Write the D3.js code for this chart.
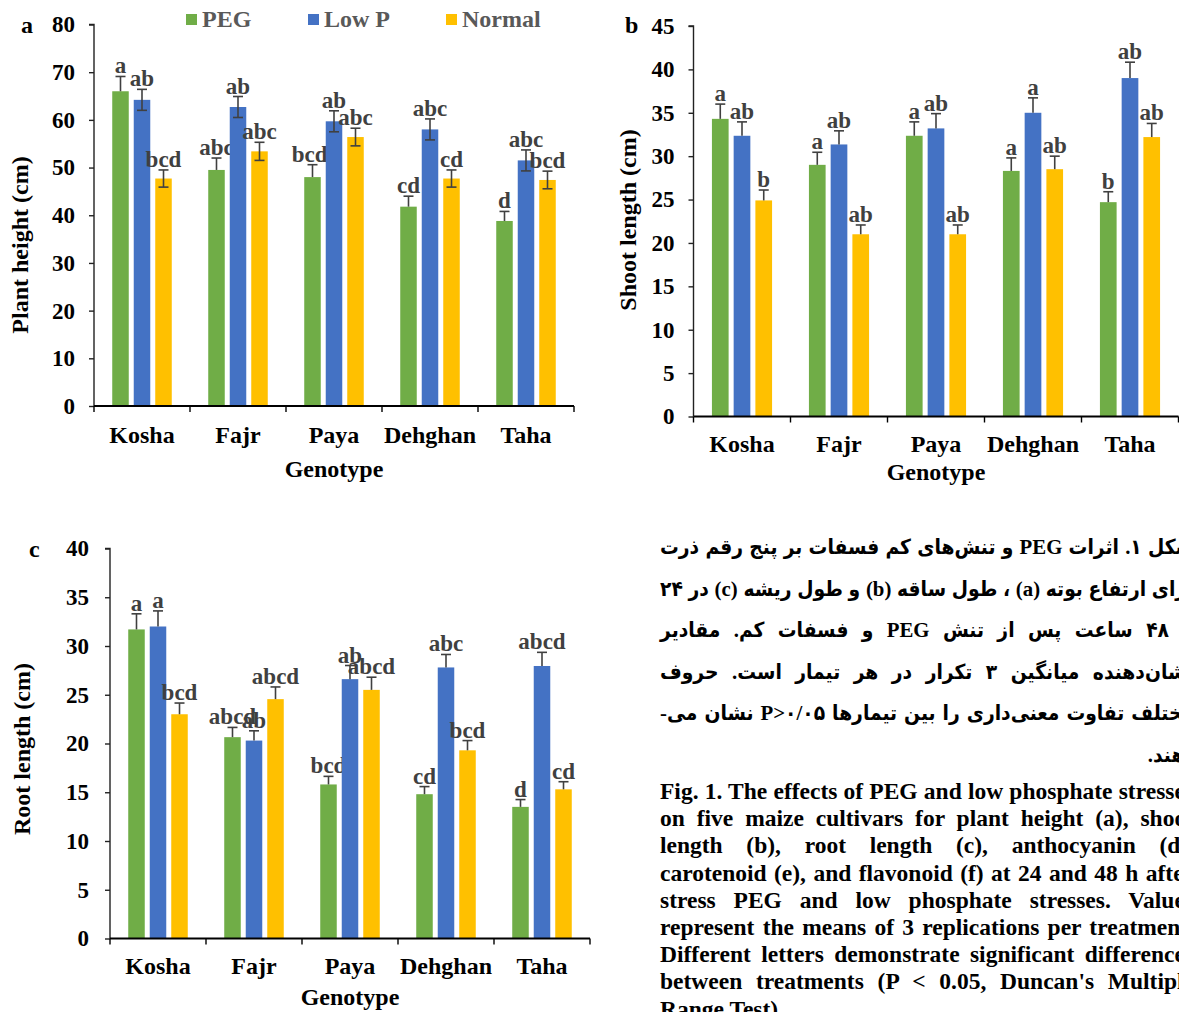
<!DOCTYPE html>
<html>
<head>
<meta charset="utf-8">
<script src="https://cdn.jsdelivr.net/npm/d3@7"></script>
<style>
  html, body { margin: 0; padding: 0; background: #fff; overflow: hidden; }
  #wrap { position: relative; width: 1179px; height: 1012px; overflow: hidden; }
  svg { position: absolute; left: 0; top: 0; }
  .cap { position: absolute; font-family: "Liberation Serif", "Times New Roman", serif; font-weight: bold; color: #000; }
  .cap div { white-space: nowrap; text-align: justify; text-align-last: justify; }
  .fa { direction: rtl; font-family: "Liberation Serif", "DejaVu Sans Condensed", "DejaVu Sans", serif; }
</style>
</head>
<body>
<div id="wrap"></div>
<script>
// ---- data ----
const genotypes = ["Kosha", "Fajr", "Paya", "Dehghan", "Taha"];
const treatments = ["PEG", "Low P", "Normal"];
const treatmentColors = ["#70AD47", "#4472C4", "#FFC000"];

// plant height (cm)
const heightPEG = [66.0, 49.5, 48.0, 41.8, 38.8];
const heightLowP = [64.2, 62.7, 59.7, 58.0, 51.5];
const heightNormal = [47.7, 53.4, 56.4, 47.7, 47.4];
const heightPEGErr = [3.1, 2.5, 2.6, 2.2, 2.0];
const heightLowPErr = [2.2, 2.2, 2.2, 2.2, 2.2];
const heightNormalErr = [1.8, 1.9, 1.85, 1.8, 1.85];
const heightPEGLetters = ["a", "abc", "bcd,", "cd", "d"];
const heightLowPLetters = ["ab", "ab", "ab", "abc", "abc"];
const heightNormalLetters = ["bcd", "abc", "abc", "cd", "bcd"];
const heightTicks = [0, 10, 20, 30, 40, 50, 60, 70, 80];

// shoot length (cm)
const shootPEG = [34.3, 29.0, 32.35, 28.3, 24.7];
const shootLowP = [32.35, 31.35, 33.2, 35.0, 39.0];
const shootNormal = [24.9, 21.0, 21.0, 28.5, 32.2];
const shootPEGErr = [1.7, 1.45, 1.6, 1.5, 1.2];
const shootLowPErr = [1.6, 1.57, 1.7, 1.72, 1.83];
const shootNormalErr = [1.2, 1.07, 1.07, 1.5, 1.57];
const shootPEGLetters = ["a", "a", "a", "a", "b"];
const shootLowPLetters = ["ab", "ab", "ab", "a", "ab"];
const shootNormalLetters = ["b", "ab", "ab", "ab", "ab"];
const shootTicks = [0, 5, 10, 15, 20, 25, 30, 35, 40, 45];

// root length (cm)
const rootPEG = [31.7, 20.65, 15.8, 14.8, 13.5];
const rootLowP = [32.0, 20.3, 26.6, 27.8, 27.95];
const rootNormal = [23.0, 24.55, 25.5, 19.3, 15.3];
const rootPEGErr = [1.6, 1.0, 0.83, 0.78, 0.75];
const rootLowPErr = [1.6, 1.0, 1.4, 1.33, 1.4];
const rootNormalErr = [1.15, 1.25, 1.3, 1.0, 0.78];
const rootPEGLetters = ["a", "abcd", "bcd", "cd", "d"];
const rootLowPLetters = ["a", "ab", "ab", "abc", "abcd"];
const rootNormalLetters = ["bcd", "abcd", "abcd", "bcd", "cd"];
const rootTicks = [0, 5, 10, 15, 20, 25, 30, 35, 40];

const captionFa = [
  "شکل ۱. اثرات PEG و تنش‌های کم فسفات بر پنج رقم ذرت",
  "برای ارتفاع بوته (a) ، طول ساقه (b) و طول ریشه (c) در ۲۴",
  "و ۴۸ ساعت پس از تنش PEG و فسفات کم. مقادیر",
  "نشان‌دهنده میانگین ۳ تکرار در هر تیمار است. حروف",
  "مختلف تفاوت معنی‌داری را بین تیمارها P>۰/۰۵ نشان می-",
  "دهند."
];
const captionEn = [
  "Fig. 1. The effects of PEG and low phosphate stresses",
  "on five maize cultivars for plant height (a), shoot",
  "length (b), root length (c), anthocyanin (d),",
  "carotenoid (e), and flavonoid (f) at 24 and 48 h after",
  "stress PEG and low phosphate stresses. Values",
  "represent the means of 3 replications per treatment.",
  "Different letters demonstrate significant differences",
  "between treatments (P < 0.05, Duncan's Multiple",
  "Range Test)."
];

// ---- drawing ----
const W = 1179, H = 1012;
const wrap = d3.select("#wrap");
const svg = wrap.append("svg").attr("width", W).attr("height", H);
svg.append("rect").attr("width", W).attr("height", H).attr("fill", "#fff");

const FONT = "'Liberation Serif', 'Times New Roman', serif";
const TICK_SIZE = 23, CAT_SIZE = 24, TITLE_SIZE = 24, LETTER_SIZE = 23;

function panel(cfg) {
  const g = svg.append("g");
  const x = d3.scaleBand().domain(genotypes).range([cfg.x0, cfg.x1]);
  const y = d3.scaleLinear().domain([0, cfg.max]).range([cfg.y0, cfg.yTop]);
  const cw = x.bandwidth();
  const step = cw * 0.224, bw = cw * 0.172;
  const xs = d3.scaleBand().domain(treatments).range([-1.5 * step, 1.5 * step])
    .paddingInner(1 - bw / step).paddingOuter((1 - bw / step) / 2);

  const series = treatments.map((t, i) => ({
    name: t, color: treatmentColors[i],
    values: cfg.values[i], errs: cfg.errs[i], letters: cfg.letters[i],
    both: cfg.bothSides[i]
  }));

  series.forEach(s => {
    const sg = g.append("g");
    const rows = genotypes.map((gn, j) => ({ gn, v: s.values[j], e: s.errs[j], l: s.letters[j] }));
    const bx = d => x(d.gn) + cw / 2 + xs(s.name);
    sg.selectAll("rect").data(rows).join("rect")
      .attr("x", bx).attr("width", xs.bandwidth())
      .attr("y", d => y(d.v)).attr("height", d => y(0) - y(d.v))
      .attr("fill", s.color);
    // error bars
    const cx = d => bx(d) + xs.bandwidth() / 2;
    const eg = sg.selectAll("g.err").data(rows).join("g").attr("class", "err")
      .attr("stroke", "#404040").attr("stroke-width", 1.6).attr("fill", "none");
    eg.append("line").attr("x1", cx).attr("x2", cx)
      .attr("y1", d => s.both ? y(d.v - d.e) : y(d.v)).attr("y2", d => y(d.v + d.e));
    eg.append("line").attr("x1", d => cx(d) - 5).attr("x2", d => cx(d) + 5)
      .attr("y1", d => y(d.v + d.e)).attr("y2", d => y(d.v + d.e));
    if (s.both) {
      eg.append("line").attr("x1", d => cx(d) - 5).attr("x2", d => cx(d) + 5)
        .attr("y1", d => y(d.v - d.e)).attr("y2", d => y(d.v - d.e));
    }
    // significance letters
    sg.selectAll("text").data(rows).join("text")
      .attr("x", cx).attr("y", d => y(d.v + d.e) - 3)
      .attr("text-anchor", "middle")
      .attr("font-family", FONT).attr("font-weight", "bold").attr("font-size", LETTER_SIZE)
      .attr("fill", "#404040").text(d => d.l);
  });

  // y axis
  const ya = g.append("g").attr("transform", `translate(${cfg.x0},0)`)
    .call(d3.axisLeft(y).tickValues(cfg.ticks).tickSize(5).tickPadding(cfg.pad).tickFormat(d3.format("d")));
  ya.select(".domain").attr("stroke", "#222").attr("stroke-width", 1.4).attr("d", `M-5,${cfg.yTop}H0V${cfg.y0}`);
  ya.selectAll(".tick line").attr("stroke", "#222").attr("stroke-width", 1.4);
  ya.selectAll(".tick text").attr("font-family", FONT).attr("font-weight", "bold")
    .attr("font-size", TICK_SIZE).attr("fill", "#000");

  // x axis
  const xa = g.append("g");
  xa.append("line").attr("x1", cfg.x0).attr("x2", cfg.x1).attr("y1", cfg.y0).attr("y2", cfg.y0)
    .attr("stroke", "#000").attr("stroke-width", 2.2);
  const bounds = genotypes.map(gn => x(gn)).concat([cfg.x1]);
  xa.selectAll("line.tk").data(bounds).join("line").attr("class", "tk")
    .attr("x1", d => d).attr("x2", d => d).attr("y1", cfg.y0).attr("y2", cfg.y0 + 6)
    .attr("stroke", "#000").attr("stroke-width", 1.4);
  xa.selectAll("text").data(genotypes).join("text")
    .attr("x", d => x(d) + cw / 2).attr("y", cfg.catY).attr("text-anchor", "middle")
    .attr("font-family", FONT).attr("font-weight", "bold").attr("font-size", CAT_SIZE).text(d => d);

  g.append("text").attr("x", (cfg.x0 + cfg.x1) / 2).attr("y", cfg.genY).attr("text-anchor", "middle")
    .attr("font-family", FONT).attr("font-weight", "bold").attr("font-size", CAT_SIZE).text("Genotype");

  g.append("text").attr("transform", `translate(${cfg.titleX},${cfg.titleY}) rotate(-90)`)
    .attr("text-anchor", "middle").attr("font-family", FONT).attr("font-weight", "bold")
    .attr("font-size", TITLE_SIZE).text(cfg.title);

  g.append("text").attr("x", cfg.tagX).attr("y", cfg.tagY)
    .attr("font-family", FONT).attr("font-weight", "bold").attr("font-size", 24).text(cfg.tag);
}

panel({
  x0: 94, x1: 574, y0: 406, yTop: 24.5, max: 80, ticks: heightTicks, pad: 14,
  values: [heightPEG, heightLowP, heightNormal],
  errs: [heightPEGErr, heightLowPErr, heightNormalErr],
  letters: [heightPEGLetters, heightLowPLetters, heightNormalLetters],
  bothSides: [false, true, true],
  catY: 443, genY: 477, title: "Plant height (cm)", titleX: 28, titleY: 245,
  tag: "a", tagX: 21, tagY: 33
});
panel({
  x0: 693.5, x1: 1178.5, y0: 416.5, yTop: 26, max: 45, ticks: shootTicks, pad: 14,
  values: [shootPEG, shootLowP, shootNormal],
  errs: [shootPEGErr, shootLowPErr, shootNormalErr],
  letters: [shootPEGLetters, shootLowPLetters, shootNormalLetters],
  bothSides: [false, false, false],
  catY: 452, genY: 480, title: "Shoot length (cm)", titleX: 636, titleY: 220,
  tag: "b", tagX: 625, tagY: 33
});
panel({
  x0: 110, x1: 590, y0: 938.5, yTop: 548.5, max: 40, ticks: rootTicks, pad: 16,
  values: [rootPEG, rootLowP, rootNormal],
  errs: [rootPEGErr, rootLowPErr, rootNormalErr],
  letters: [rootPEGLetters, rootLowPLetters, rootNormalLetters],
  bothSides: [false, false, false],
  catY: 974, genY: 1005, title: "Root length (cm)", titleX: 30, titleY: 749,
  tag: "c", tagX: 29, tagY: 557
});

// legend
const lg = svg.append("g");
const legX = [186, 308, 446];
treatments.forEach((t, i) => {
  lg.append("rect").attr("x", legX[i]).attr("y", 14).attr("width", 11).attr("height", 11).attr("fill", treatmentColors[i]);
  lg.append("text").attr("x", legX[i] + 16).attr("y", 27).attr("font-family", FONT).attr("font-weight", "bold")
    .attr("font-size", 24).attr("fill", "#595959").text(t);
});

// captions
const fa = wrap.append("div").attr("class", "cap fa")
  .style("left", "660px").style("top", "526px").style("width", "534px")
  .style("font-size", "20.8px").style("line-height", "41.5px");
fa.selectAll("div").data(captionFa).join("div")
  .style("text-align-last", (d, i) => i === captionFa.length - 1 ? "start" : "justify")
  .text(d => d);

const en = wrap.append("div").attr("class", "cap")
  .style("left", "660px").style("top", "778px").style("width", "534px")
  .style("font-size", "23.5px").style("line-height", "27.2px");
en.selectAll("div").data(captionEn).join("div")
  .style("text-align-last", (d, i) => i === captionEn.length - 1 ? "left" : "justify")
  .text(d => d);
</script>
</body>
</html>
